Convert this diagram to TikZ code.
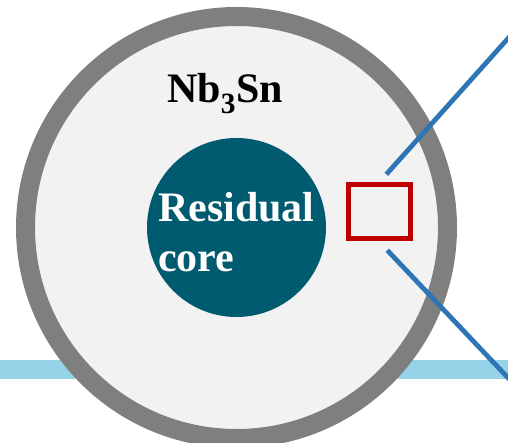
\documentclass[tikz,border=0pt]{standalone}
\usepackage{fontspec}
\setmainfont{Liberation Serif}
\usetikzlibrary{shadows}
\definecolor{ringgray}{HTML}{7F7F7F}
\definecolor{phasefill}{HTML}{F2F2F2}
\definecolor{coreteal}{HTML}{005B70}
\definecolor{boxred}{HTML}{C00000}
\definecolor{zoomblue}{HTML}{2E75B6}
\definecolor{bandblue}{HTML}{97D3E8}
\begin{document}
\begin{tikzpicture}[x=1pt, y=-1pt]
	% Styles
	\tikzstyle{wire}=[circle,draw=ringgray,fill=phasefill,line width=19pt,minimum size=422pt,inner sep=0pt]
	\tikzstyle{core}=[circle,fill=coreteal,minimum size=179pt,inner sep=0pt]
	\tikzstyle{textlbl}=[font=\bfseries\fontsize{42}{50}\selectfont,inner sep=0pt]
	\tikzstyle{zoombox}=[rectangle,draw=boxred,fill=phasefill,line width=5pt,minimum width=62pt,minimum height=54pt,inner sep=0pt,
		drop shadow={shadow xshift=1pt,shadow yshift=-1.5pt,opacity=0.25,fill=black}]
	\tikzstyle{zoomline}=[draw=zoomblue,line width=4.8pt]

	\path[clip] (0,0) rectangle (508,443);

	% Band behind the wire
	\fill[bandblue] (0,360) rectangle (508,379);

	% Wire and core
	\node[wire] (wire) at (236.5,227.5) {};
	\node[core] (core) at (wire.center) {};

	% Labels
	\node[textlbl, anchor=base west] (phase) at (167,103) {Nb\textsubscript{3}Sn};
	\node[textlbl, text=white, align=left, anchor=base west] (corelbl) at (158,272) {Residual\\core};

	% Zoom window
	\node[zoombox] (box) at (379,212) {};
	\coordinate (zoomtop) at (512,34);
	\coordinate (zoombot) at (512,382);
	\foreach \a/\b/\s in {north/zoomtop/11pt, south/zoombot/12pt}
	\path[zoomline, shorten <=\s] (box.\a) -- (\b);
\end{tikzpicture}
\end{document}
